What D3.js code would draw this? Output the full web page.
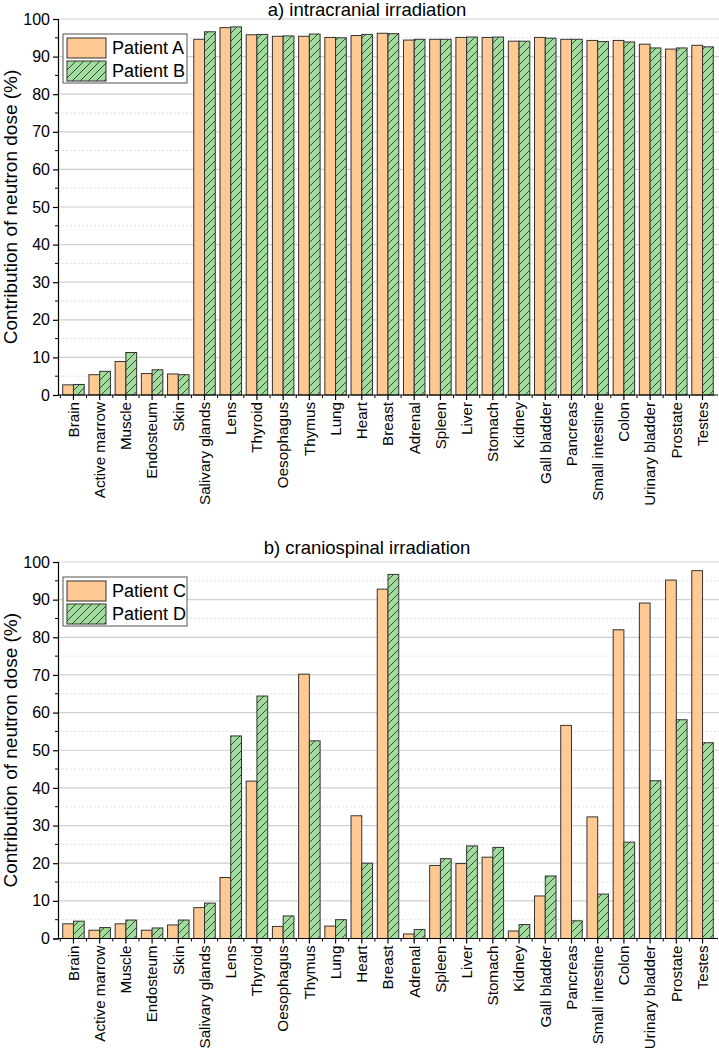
<!DOCTYPE html>
<html>
<head>
<meta charset="utf-8">
<script src="https://cdn.jsdelivr.net/npm/d3@7"></script>
<style>
body { margin: 0; background: #fff; }
text { font-family: "Liberation Sans", Arial, sans-serif; fill: #000; }
</style>
</head>
<body>
<div id="chart"></div>
<script>
var organs = ["Brain", "Active marrow", "Muscle", "Endosteum", "Skin", "Salivary glands", "Lens", "Thyroid",
  "Oesophagus", "Thymus", "Lung", "Heart", "Breast", "Adrenal", "Spleen", "Liver", "Stomach", "Kidney",
  "Gall bladder", "Pancreas", "Small intestine", "Colon", "Urinary bladder", "Prostate", "Testes"];

var patientA = [2.7, 5.4, 8.9, 5.7, 5.6, 94.6, 97.7, 95.8, 95.4, 95.4, 95.1, 95.6, 96.2, 94.4, 94.6, 95.1,
  95.1, 94.1, 95.1, 94.6, 94.3, 94.3, 93.3, 92.0, 93.0];
var patientB = [2.8, 6.3, 11.3, 6.7, 5.4, 96.6, 97.9, 95.9, 95.5, 96.0, 95.0, 95.9, 96.1, 94.6, 94.6, 95.2,
  95.2, 94.1, 94.9, 94.6, 94.0, 93.9, 92.3, 92.3, 92.6];
var patientC = [3.9, 2.2, 3.9, 2.2, 3.6, 8.2, 16.2, 41.8, 3.2, 70.2, 3.3, 32.6, 92.8, 1.2, 19.4, 19.9,
  21.6, 2.0, 11.3, 56.6, 32.3, 82.0, 89.1, 95.2, 97.7];
var patientD = [4.6, 2.9, 4.9, 2.8, 4.9, 9.4, 53.8, 64.4, 6.0, 52.5, 5.0, 20.0, 96.7, 2.4, 21.2, 24.6,
  24.2, 3.7, 16.6, 4.7, 11.8, 25.6, 41.9, 58.1, 52.0];

var yTicks = [0, 10, 20, 30, 40, 50, 60, 70, 80, 90, 100];

var W = 719, H = 1050;
var orange = "#ffc994", green = "#a0dc9c", edge = "#333";

var svg = d3.select("#chart").append("svg")
  .attr("width", W)
  .attr("height", H);

// hatch for the second patient
var defs = svg.append("defs");
var pat = defs.append("pattern")
  .attr("id", "hatch")
  .attr("patternUnits", "userSpaceOnUse")
  .attr("width", 8)
  .attr("height", 8);
pat.append("rect").attr("width", 8).attr("height", 8).attr("fill", green);
pat.append("path")
  .attr("d", "M0,8 L8,0 M-2,2 L2,-2 M6,10 L10,6")
  .attr("stroke", "#222")
  .attr("stroke-width", 0.8);

var x = d3.scaleBand()
  .domain(organs)
  .range([58, 718])
  .padding(0.18);

var sub = d3.scaleBand()
  .domain([0, 1])
  .range([0, x.bandwidth()]);

function panel(top, bottom, title, titleY, names, first, second) {
  var y = d3.scaleLinear().domain([0, 100]).range([bottom, top]);
  var g = svg.append("g");

  // grid
  g.selectAll("line.minor")
    .data(d3.range(5, 100, 10))
    .enter().append("line")
    .attr("x1", 58).attr("x2", W)
    .attr("y1", function(d) { return y(d); })
    .attr("y2", function(d) { return y(d); })
    .attr("stroke", "#d6d6d6")
    .attr("stroke-dasharray", "1.5,2.5")
    .attr("stroke-width", 1);
  g.selectAll("line.major")
    .data(yTicks.slice(1))
    .enter().append("line")
    .attr("x1", 58).attr("x2", W)
    .attr("y1", function(d) { return y(d); })
    .attr("y2", function(d) { return y(d); })
    .attr("stroke", "#d0d0d0")
    .attr("stroke-width", 1.2);

  // bars
  var series = [first, second];
  series.forEach(function(vals, s) {
    g.selectAll("rect.s" + s)
      .data(vals)
      .enter().append("rect")
      .attr("x", function(d, i) { return x(organs[i]) + sub(s); })
      .attr("y", function(d) { return y(d); })
      .attr("width", sub.bandwidth())
      .attr("height", function(d) { return y(0) - y(d); })
      .attr("fill", s == 0 ? orange : "url(#hatch)")
      .attr("stroke", edge)
      .attr("stroke-width", 1);
  });

  // y axis
  var yAxis = d3.axisLeft(y).tickValues(yTicks).tickSize(5).tickPadding(3);
  var ya = g.append("g").attr("transform", "translate(58,0)").call(yAxis);
  ya.select(".domain").attr("stroke", "#000").attr("stroke-width", 1.2);
  ya.selectAll(".tick line").attr("stroke", "#000").attr("stroke-width", 1.2);
  ya.selectAll(".tick text").attr("font-size", 16).attr("font-family", "Liberation Sans, Arial, sans-serif");
  g.selectAll("line.ymin")
    .data(d3.range(5, 100, 10))
    .enter().append("line")
    .attr("x1", 55).attr("x2", 58)
    .attr("y1", function(d) { return y(d); })
    .attr("y2", function(d) { return y(d); })
    .attr("stroke", "#000");

  // x axis
  var xAxis = d3.axisBottom(x).tickSize(5).tickFormat("");
  var xa = g.append("g").attr("transform", "translate(0," + bottom + ")").call(xAxis);
  xa.select(".domain").attr("d", "M58,0H718").attr("stroke", "#000").attr("stroke-width", 1.2);
  xa.selectAll(".tick line").attr("stroke", "#000").attr("stroke-width", 1.2);
  g.selectAll("line.xmin")
    .data(organs)
    .enter().append("line")
    .attr("x1", function(d) { return x(d) - x.step() * x.paddingInner() / 2; })
    .attr("x2", function(d) { return x(d) - x.step() * x.paddingInner() / 2; })
    .attr("y1", bottom).attr("y2", bottom + 3)
    .attr("stroke", "#000");

  g.selectAll("text.cat")
    .data(organs)
    .enter().append("text")
    .attr("class", "cat")
    .attr("transform", function(d) {
      return "translate(" + (x(d) + x.bandwidth() / 2) + "," + (bottom + 7) + ") rotate(-90)";
    })
    .attr("text-anchor", "end")
    .attr("dy", "0.35em")
    .attr("font-size", 15.2)
    .text(function(d) { return d; });

  // axis title
  g.append("text")
    .attr("transform", "translate(17," + ((top + bottom) / 2) + ") rotate(-90)")
    .attr("text-anchor", "middle")
    .attr("font-size", 19)
    .text("Contribution of neutron dose (%)");

  g.append("text")
    .attr("x", 367)
    .attr("y", titleY)
    .attr("text-anchor", "middle")
    .attr("font-size", 18.5)
    .text(title);

  // legend
  var lg = g.append("g").attr("transform", "translate(" + 63 + "," + (top + 15) + ")");
  lg.append("rect")
    .attr("width", 124).attr("height", 49)
    .attr("fill", "#fff")
    .attr("stroke", "#555")
    .attr("stroke-width", 1);
  names.forEach(function(n, i) {
    lg.append("rect")
      .attr("x", 4).attr("y", 4 + i * 23)
      .attr("width", 39).attr("height", 20)
      .attr("fill", i == 0 ? orange : "url(#hatch)")
      .attr("stroke", edge)
      .attr("stroke-width", 1);
    lg.append("text")
      .attr("x", 49).attr("y", 14 + i * 23)
      .attr("dy", "0.35em")
      .attr("font-size", 18)
      .text(n);
  });
}

panel(19, 395, "a) intracranial irradiation", 16, ["Patient A", "Patient B"], patientA, patientB);
panel(562, 938.5, "b) craniospinal irradiation", 554, ["Patient C", "Patient D"], patientC, patientD);
</script>
</body>
</html>
